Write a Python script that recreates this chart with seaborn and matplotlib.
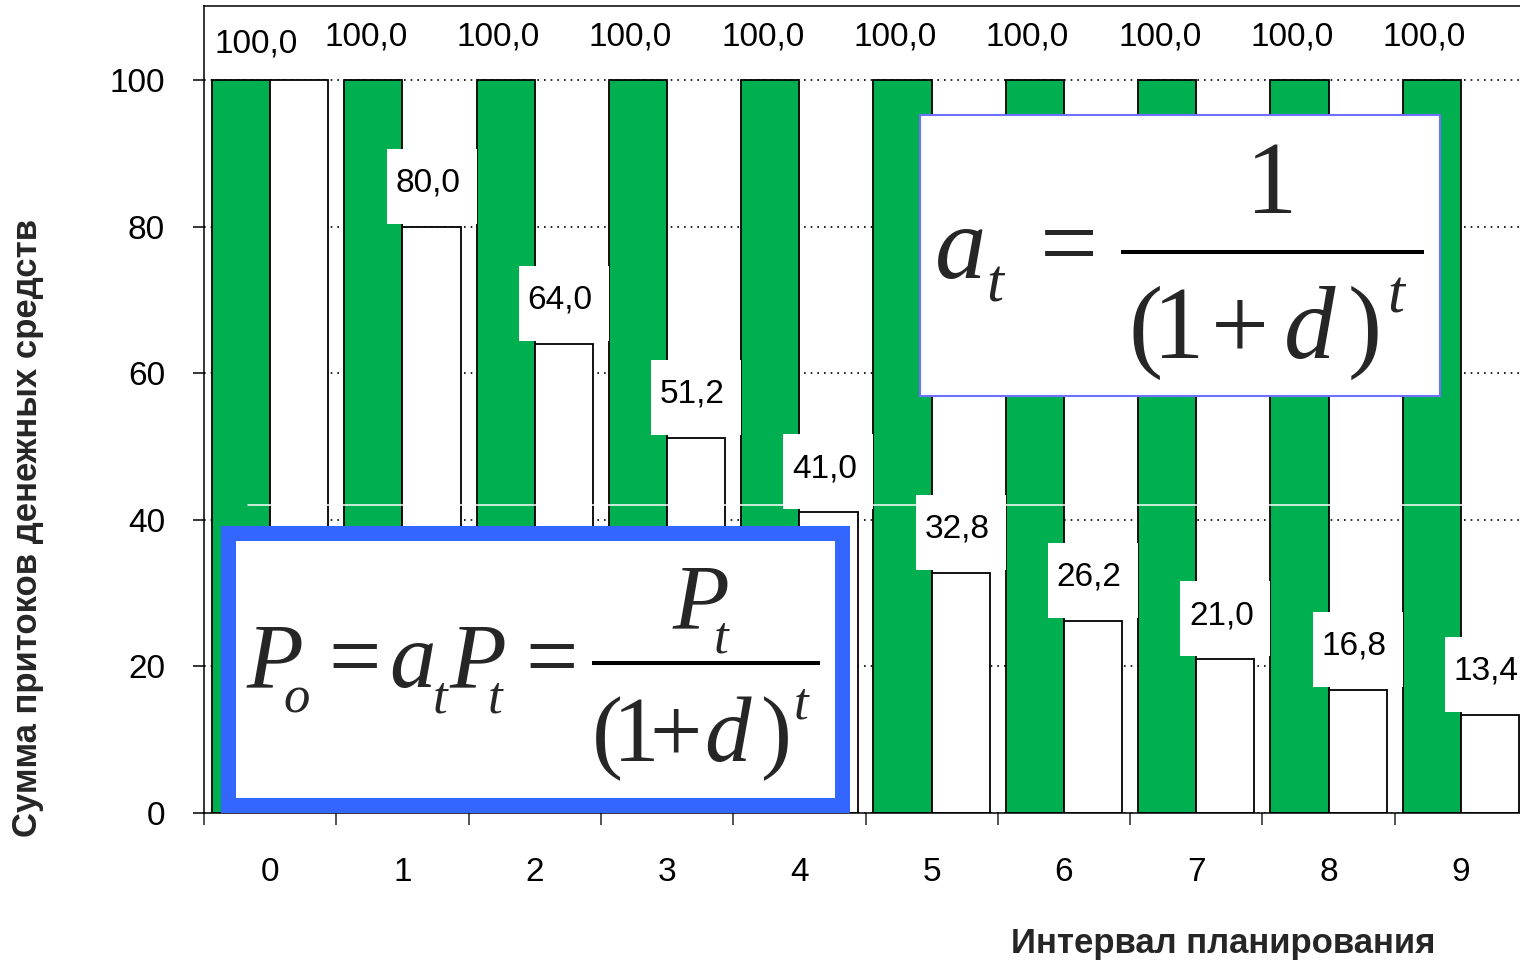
import numpy as np
import pandas as pd
import matplotlib
matplotlib.use("Agg")
import matplotlib.pyplot as plt
import seaborn as sns
from matplotlib.patches import Rectangle
from matplotlib.lines import Line2D

# ---- data -------------------------------------------------------------
periods = list(range(10))
inflow = [100.0] * 10
discounted = [100.0, 80.0, 64.0, 51.2, 41.0, 32.8, 26.2, 21.0, 16.8, 13.4]
series_names = ["Поступление", "Дисконтированная стоимость"]
series_colors = ["#00B050", "#FFFFFF"]
y_ticks = [0, 20, 40, 60, 80, 100]
x_title = "Интервал планирования"
y_title = "Сумма притоков денежных средств"

df = pd.DataFrame({
    "t": periods * 2,
    "value": inflow + discounted,
    "series": [series_names[0]] * len(periods) + [series_names[1]] * len(periods),
})

# ---- figure -----------------------------------------------------------
W, H = 1520, 963
sns.set_style("ticks")
plt.rcParams["font.family"] = ["Liberation Sans", "DejaVu Sans"]

fig = plt.figure(figsize=(W / 100, H / 100), dpi=100)
ax = fig.add_axes([204 / W, (H - 813) / H, 1323 / W, 807 / H])

sns.barplot(data=df, x="t", y="value", hue="series", hue_order=series_names,
            palette=dict(zip(series_names, series_colors)), saturation=1,
            width=0.88, edgecolor="black", linewidth=1.3, legend=False, ax=ax)

ax.set_xlim(-0.5, 9.5)
ax.set_ylim(0, 110.1)
ax.set_xlabel("")
ax.set_ylabel("")

ax.set_axisbelow(True)
ax.yaxis.grid(True, linestyle=(0, (1, 3)), color="black", linewidth=1.2)
ax.xaxis.grid(False)

ax.set_yticks(y_ticks)
ax.tick_params(axis="y", length=8, width=1.1, pad=20, labelsize=24, colors="black")
ax.tick_params(axis="x", which="major", length=0, pad=32, labelsize=24, colors="black")
ax.set_xticks(np.arange(-0.5, 10, 1), minor=True)
ax.tick_params(axis="x", which="minor", length=8.5, width=1.1, direction="out")
for s in ax.spines.values():
    s.set_visible(True)
    s.set_color("black")
    s.set_linewidth(1.1)

# thin light seam across the bars
ax.axhline(42, xmin=(248 - 204) / 1323, xmax=1, color="white", linewidth=1.1, zorder=3)

# ---- value labels -----------------------------------------------------
inv = ax.transData.inverted()


def px2data(dx, dy):
    x0, y0 = inv.transform((0, 0))
    x1, y1 = inv.transform((dx, dy))
    return x1 - x0, y1 - y0


def fmt(v):
    return f"{v:.1f}".replace(".", ",")


box_w, box_h = px2data(90, 75)
_, box_gap = px2data(0, 3)
_, base_off = px2data(0, 35)

green_bars, white_bars = ax.containers[0], ax.containers[1]

for i, bar in enumerate(green_bars):
    cx = bar.get_x() + bar.get_width() / 2
    top = bar.get_height()
    dx, dy = (15, -7) if i == 0 else (-7.5, 0)
    ox, oy = px2data(dx, dy)
    ax.text(cx + ox, top + base_off + oy, fmt(inflow[i]), ha="center",
            va="baseline", fontsize=24, color="black", zorder=6)

for i, bar in enumerate(white_bars):
    if i == 0:
        continue
    cx = bar.get_x() + bar.get_width() / 2
    top = bar.get_height()
    ax.add_patch(Rectangle((cx - box_w / 2, top + box_gap), box_w, box_h,
                           facecolor="white", edgecolor="none", zorder=5))
    ox, _ = px2data(-4, 0)
    ax.text(cx + ox, top + base_off, fmt(discounted[i]), ha="center",
            va="baseline", fontsize=24, color="black", zorder=6)

# ---- axis titles ------------------------------------------------------
fig.text(28 / W, 1 - 528 / H, y_title, rotation=90, ha="center", va="center",
         fontsize=25, fontweight="bold")
fig.text(1223 / W, 1 - 943 / H, x_title, ha="center", va="center",
         fontsize=25, fontweight="bold")

# ---- formula panels ---------------------------------------------------
fig.add_artist(Rectangle((920 / W, 1 - 396 / H), 520 / W, 281 / H,
                         transform=fig.transFigure, facecolor="white",
                         edgecolor="#7070FF", linewidth=1.5, zorder=10))
fig.add_artist(Rectangle((227.5 / W, 1 - 804.5 / H), 615 / W, 272 / H,
                         transform=fig.transFigure, facecolor="white",
                         edgecolor="#3366FF", linewidth=10.8, joinstyle="miter",
                         zorder=10))


def put(x, y, s, size, italic=False):
    fig.text(x / W, 1 - y / H, s, fontsize=size, family="Liberation Serif",
             fontstyle="italic" if italic else "normal", ha="center",
             va="baseline", zorder=12)


def bar_line(x0, x1, y):
    fig.add_artist(Line2D([x0 / W, x1 / W], [1 - y / H, 1 - y / H],
                          transform=fig.transFigure, color="black",
                          linewidth=2.9, solid_capstyle="butt", zorder=12))


# a_t = 1 / (1 + d)^t
M1, S1 = 74, 44
put(961, 278, "a", M1, True)
put(995, 302, "t", S1, True)
put(1069, 278, "=", M1)
bar_line(1121, 1424, 252)
put(1272, 213, "1", M1)
put(1146, 358, "(", M1)
put(1179, 358, "1", M1)
put(1240, 358, "+", M1)
put(1310, 358, "d", M1, True)
put(1365, 358, ")", M1)
put(1396, 312, "t", S1, True)

# P_o = a_t P_t = P_t / (1 + d)^t
M2, S2 = 67, 38
put(275, 687, "P", M2, True)
put(297, 712, "o", S2, True)
put(354.5, 687, "=", M2)
put(412.5, 687, "a", M2, True)
put(440, 712, "t", S2, True)
put(477.5, 687, "P", M2, True)
put(495.5, 712, "t", S2, True)
put(552, 687, "=", M2)
bar_line(592, 820, 663)
put(701, 628, "P", M2, True)
put(720.5, 652, "t", S2, True)
put(607, 761, "(", M2)
put(636, 761, "1", M2)
put(676, 761, "+", M2)
put(727, 761, "d", M2, True)
put(776, 761, ")", M2)
put(801, 718, "t", S2, True)

fig.savefig("out.png", dpi=100)
